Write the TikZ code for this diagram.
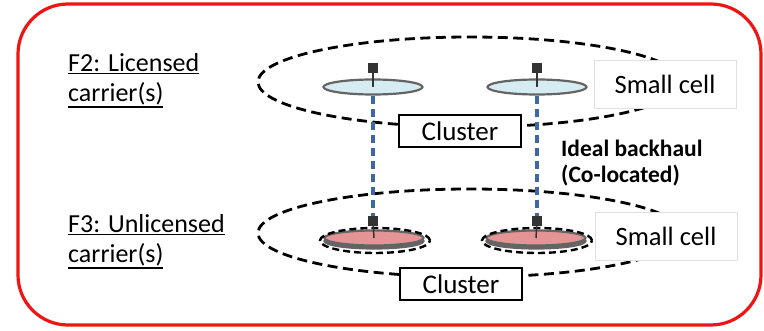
\documentclass[tikz,border=0pt]{standalone}
\usepackage{fontspec}
\setmainfont{Carlito}
\usetikzlibrary{shapes.geometric}
\definecolor{framered}{RGB}{240,20,20}
\definecolor{discblue}{RGB}{214,236,243}
\definecolor{discpink}{RGB}{228,148,148}
\definecolor{linkblue}{RGB}{60,105,165}
\definecolor{rimgray}{RGB}{100,100,100}
\newcommand{\carrierul}[1]{\setbox0\hbox{#1}\rlap{\rule[\dimexpr-\dp0-2pt\relax]{\wd0}{1.6pt}}\box0}

\begin{document}
\begin{tikzpicture}[x=1pt,y=-1pt,
  clusterline/.style={dash pattern={on 10pt off 5.5pt},line width=2.8pt},
  disc/.style={ellipse,minimum width=99pt,minimum height=15pt,inner sep=0pt,draw=rimgray,line width=2.2pt},
  antenna/.style={fill=black!80,minimum size=10pt,inner sep=0pt},
  clusterbox/.style={draw,fill=white,line width=2.6pt,minimum width=122pt,minimum height=32pt,inner sep=0pt,font=\fontsize{27}{30}\selectfont},
  cellbox/.style={draw=black!12,fill=white,line width=0.6pt,minimum width=142pt,minimum height=48pt,inner sep=0pt,font=\fontsize{26.5}{30}\selectfont},
  backhaul/.style={linkblue,line width=3.6pt,dash pattern={on 8pt off 5pt}},
  carrier/.style={align=left,anchor=base west,inner sep=0pt,font=\fontsize{26}{30}\selectfont}]
\useasboundingbox (0,0) rectangle (764,331);

% Frame
\draw[framered,line width=3.2pt,rounded corners=50pt] (18,4) rectangle (761,325);

% Text Node
\node[carrier] (f2) at (68,102) {\carrierul{F2: Licensed}\\\carrierul{carrier(s)}};
% Text Node
\node[carrier] (f3) at (68,263) {\carrierul{F3: Unlicensed}\\\carrierul{carrier(s)}};

%Cluster ellipses
\draw[clusterline] (470,82) ellipse [x radius=212pt,y radius=45pt];
\draw[clusterline] (470,233) ellipse [x radius=212pt,y radius=44pt];

% Small cell boxes
\node[cellbox] (cell2) at (665,84) {Small cell};
\node[cellbox] (cell3) at (666,236) {Small cell};

% F2 small cells
\node[disc,fill=discblue] (d1) at (373,87) {};
\node[disc,fill=discblue] (d2) at (537,87) {};
\node[antenna] (a1) at (373,68) {};
\node[antenna] (a2) at (537,68) {};
\draw[line width=1.5pt,black!80] (a1) -- (d1.center);
\draw[line width=1.5pt,black!80] (a2) -- (d2.center);

% F3 small cells
\node[disc,fill=rimgray] (r1) at (374,241) {};
\node[disc,fill=discpink] (d3) at (374,238) {};
\node[disc,fill=rimgray] (r2) at (536,241) {};
\node[disc,fill=discpink] (d4) at (536,238) {};
\draw[clusterline,line width=2.4pt,dash pattern={on 7pt off 4pt}] (375,240.5) ellipse [x radius=55pt,y radius=12.5pt];
\draw[clusterline,line width=2.4pt,dash pattern={on 7pt off 4pt}] (537,240.5) ellipse [x radius=55pt,y radius=12.5pt];
\node[antenna] (b1) at (373,221) {};
\node[antenna] (b2) at (537,221) {};
\draw[line width=1.5pt,black!80] (b1) -- (d3.center);
\draw[line width=1.5pt,black!80] (b2) -- (d4.center);

% Backhaul links
\draw[backhaul] (d1.south) -- (b1.north);
\draw[backhaul] (d2.south) -- (b2.north);
\node[anchor=base west,align=left,inner sep=0pt,font=\bfseries\fontsize{23.5}{26}\selectfont] (bh) at (561,183) {Ideal backhaul\\(Co-located)};

% Cluster boxes
\node[clusterbox] (c2) at (460,131) {Cluster};
\node[clusterbox] (c3) at (461,284) {Cluster};

\end{tikzpicture}
\end{document}
